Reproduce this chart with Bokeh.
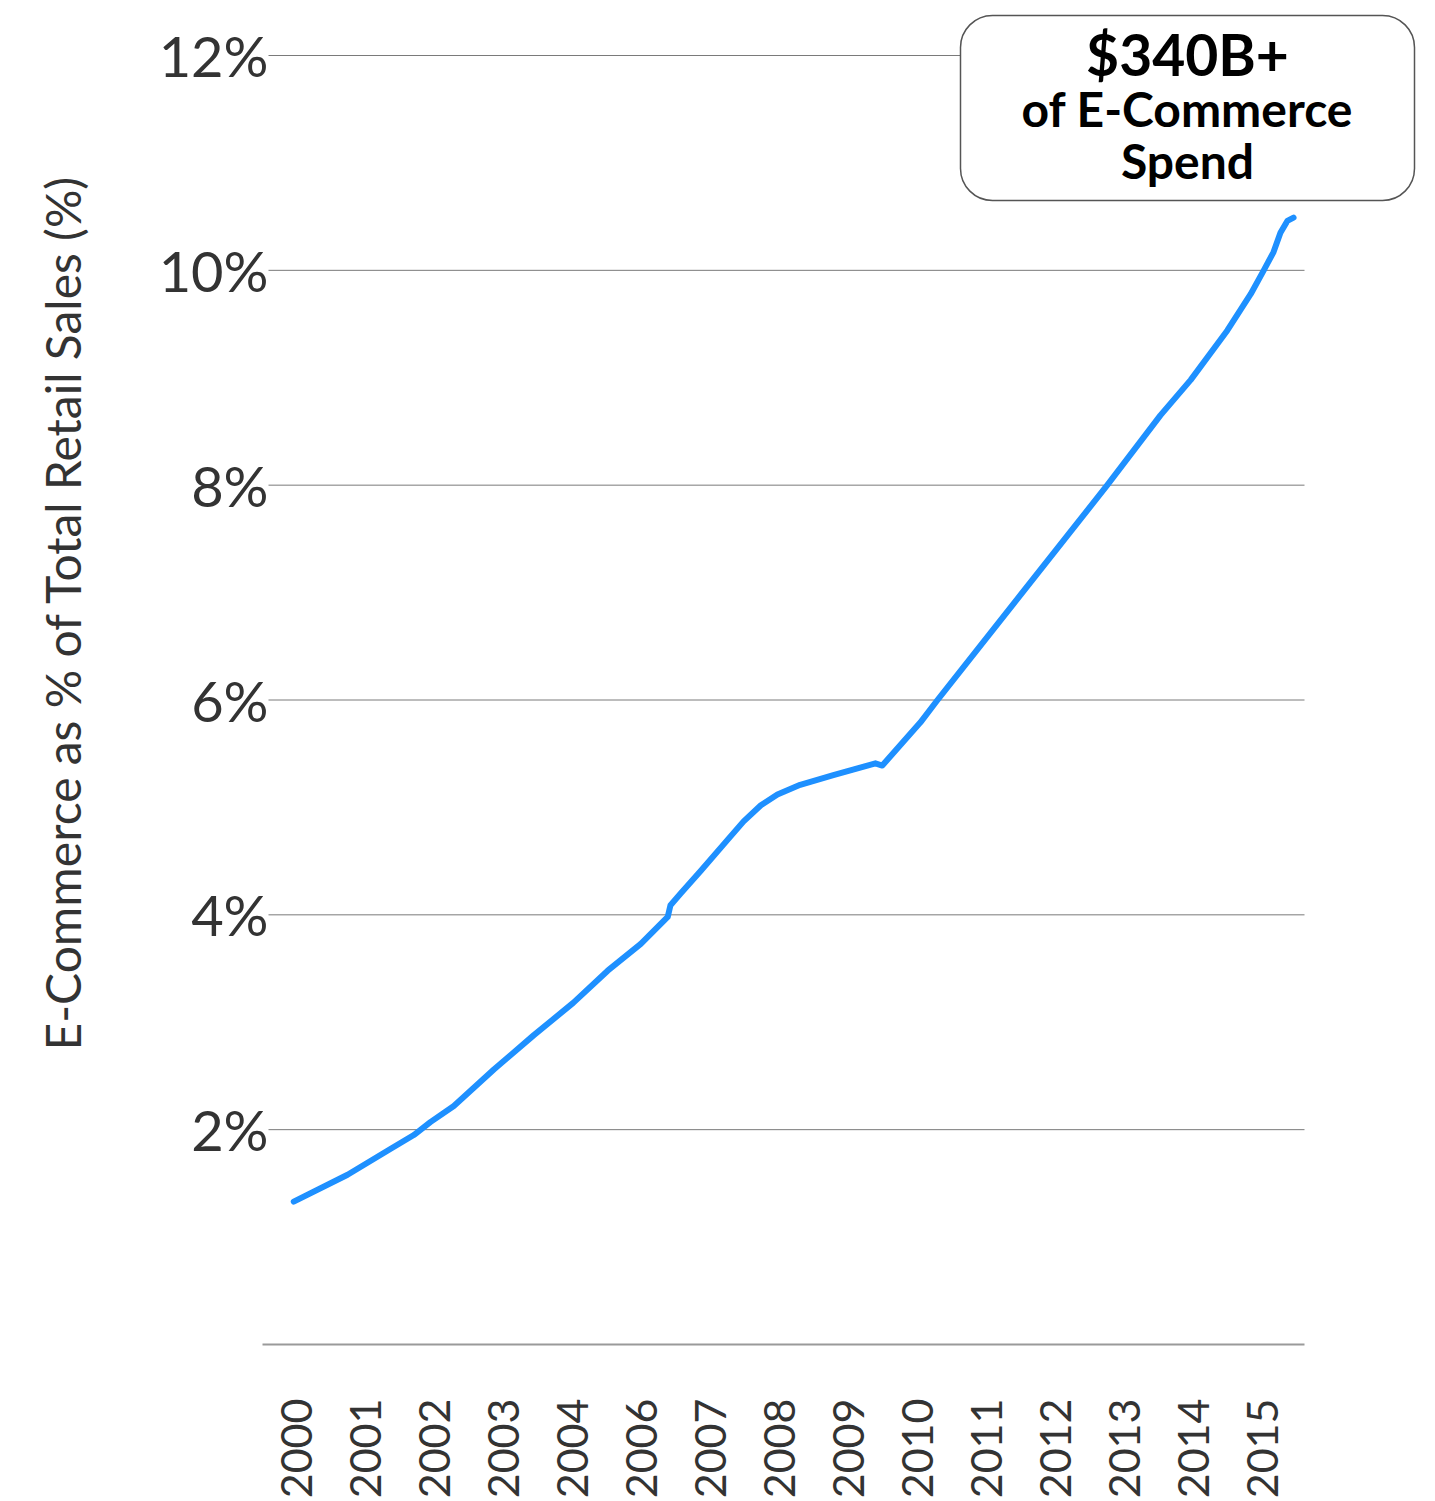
from bokeh.plotting import figure
from bokeh.models import FixedTicker, BoxAnnotation, Label, Range1d, Title
from bokeh.embed import file_html
from bokeh.resources import INLINE

# ---- data ----
x_labels = ["2000", "2001", "2002", "2003", "2004", "2006", "2007", "2008",
            "2009", "2010", "2011", "2012", "2013", "2014", "2015"]
y_ticks = [2, 4, 6, 8, 10, 12]
y_tick_labels = ["2%", "4%", "6%", "8%", "10%", "12%"]

# line positions measured in label-slot units (0 = 2000 ... 14 = 2015)
x_pos = [-0.04, 0.74, 1.36, 1.70, 1.94, 2.28, 2.86, 3.44, 4.01, 4.51, 4.99,
         5.38, 5.42, 5.57, 5.86, 6.25, 6.48, 6.73, 6.97, 7.30, 7.78, 8.39,
         8.49, 9.04, 9.29, 11.75, 12.52, 12.96, 13.49, 13.83, 14.01, 14.16,
         14.26, 14.36, 14.45]
share = [1.33, 1.58, 1.82, 1.95, 2.07, 2.22, 2.56, 2.88, 3.18, 3.48, 3.73,
         3.98, 4.09, 4.20, 4.41, 4.70, 4.87, 5.02, 5.12, 5.21, 5.30, 5.41,
         5.39, 5.79, 6.00, 8.00, 8.65, 8.98, 9.44, 9.78, 9.99, 10.17,
         10.35, 10.46, 10.49]

y_title = "E-Commerce as % of Total Retail Sales (%)"
callout_big = "$340B+"
callout_lines = ["of E-Commerce", "Spend"]

W, H = 1435, 1501
FL, FR, FT, FB = 262, 1420, 10, 1344   # frame edges in canvas px
slot0, slot_w = 296, 69                 # first label slot and slot width
px_per_pct = (FB - 55) / 12.0           # 12% gridline sits at y=55
grid_x0 = (268 - slot0) / slot_w
grid_x1 = (1304 - slot0) / slot_w

p = figure(width=W, height=H, output_backend="svg", toolbar_location=None,
           x_range=Range1d((FL - slot0) / slot_w, (FR - slot0) / slot_w),
           y_range=Range1d(0, (FB - FT) / px_per_pct),
           min_border_left=FL, min_border_right=W - FR,
           min_border_top=FT, min_border_bottom=H - FB)
p.outline_line_color = None
p.background_fill_color = "white"
p.border_fill_color = "white"
p.xgrid.visible = False
p.ygrid.visible = False

# horizontal gridlines at the y ticks
p.segment(x0=[grid_x0] * len(y_ticks), x1=[grid_x1] * len(y_ticks),
          y0=y_ticks, y1=y_ticks, line_color="#7a7a7a", line_width=1)

p.line(x_pos, share, line_color="#1E90FF", line_width=6,
       line_join="round", line_cap="round")

# x axis
xa = p.xaxis[0]
xa.bounds = ((FL - slot0) / slot_w, grid_x1)
xa.ticker = FixedTicker(ticks=list(range(len(x_labels))))
xa.major_label_overrides = {i: s for i, s in enumerate(x_labels)}
xa.major_label_orientation = 3.14159265 / 2
xa.major_label_text_font = "Lato"
xa.major_label_text_font_size = "43px"
xa.major_label_text_color = "#333333"
xa.major_label_standoff = 48
xa.major_tick_line_color = None
xa.minor_tick_line_color = None
xa.axis_line_color = "#9a9a9a"
xa.axis_line_width = 2

# y axis
ya = p.yaxis[0]
ya.ticker = FixedTicker(ticks=y_ticks)
ya.major_label_overrides = {t: s for t, s in zip(y_ticks, y_tick_labels)}
ya.major_label_text_font = "Lato"
ya.major_label_text_font_size = "56px"
ya.major_label_text_color = "#333333"
ya.major_label_standoff = -12
ya.major_tick_line_color = None
ya.minor_tick_line_color = None
ya.axis_line_color = None
# blank axis label used only as a spacer between tick labels and the title
ya.axis_label = " "
ya.axis_label_text_font_size = "1px"
ya.axis_label_standoff = 61

# vertical axis title as a left-side title (starts at y=1050 going up)
p.add_layout(Title(text=y_title, align="left", offset=FB - 1050,
                   text_font="Lato", text_font_size="48px",
                   text_font_style="normal", text_color="#333333",
                   standoff=0), "left")

# callout box (screen units: from frame bottom-left, y up)
box = BoxAnnotation(left=960 - FL, right=1414 - FL, top=FB - 15, bottom=FB - 200,
                    left_units="screen", right_units="screen",
                    top_units="screen", bottom_units="screen",
                    fill_color="white", fill_alpha=1.0,
                    line_color="#555555", line_width=1.5, line_alpha=1.0,
                    border_radius=32, level="overlay")
p.add_layout(box)

cx = 1187 - FL
p.add_layout(Label(x=cx, y=FB - 53, x_units="screen", y_units="screen",
                   text=callout_big, text_align="center",
                   text_baseline="alphabetic", text_font="Lato",
                   text_font_style="bold", text_font_size="57px",
                   text_color="black", level="overlay"))
for txt, base in zip(callout_lines, [108, 160]):
    p.add_layout(Label(x=cx, y=FB - base, x_units="screen", y_units="screen",
                       text=txt, text_align="center",
                       text_baseline="alphabetic", text_font="Lato",
                       text_font_style="bold", text_font_size="48px",
                       text_color="black", level="overlay"))

open("out.html", "w").write(file_html(p, INLINE))
